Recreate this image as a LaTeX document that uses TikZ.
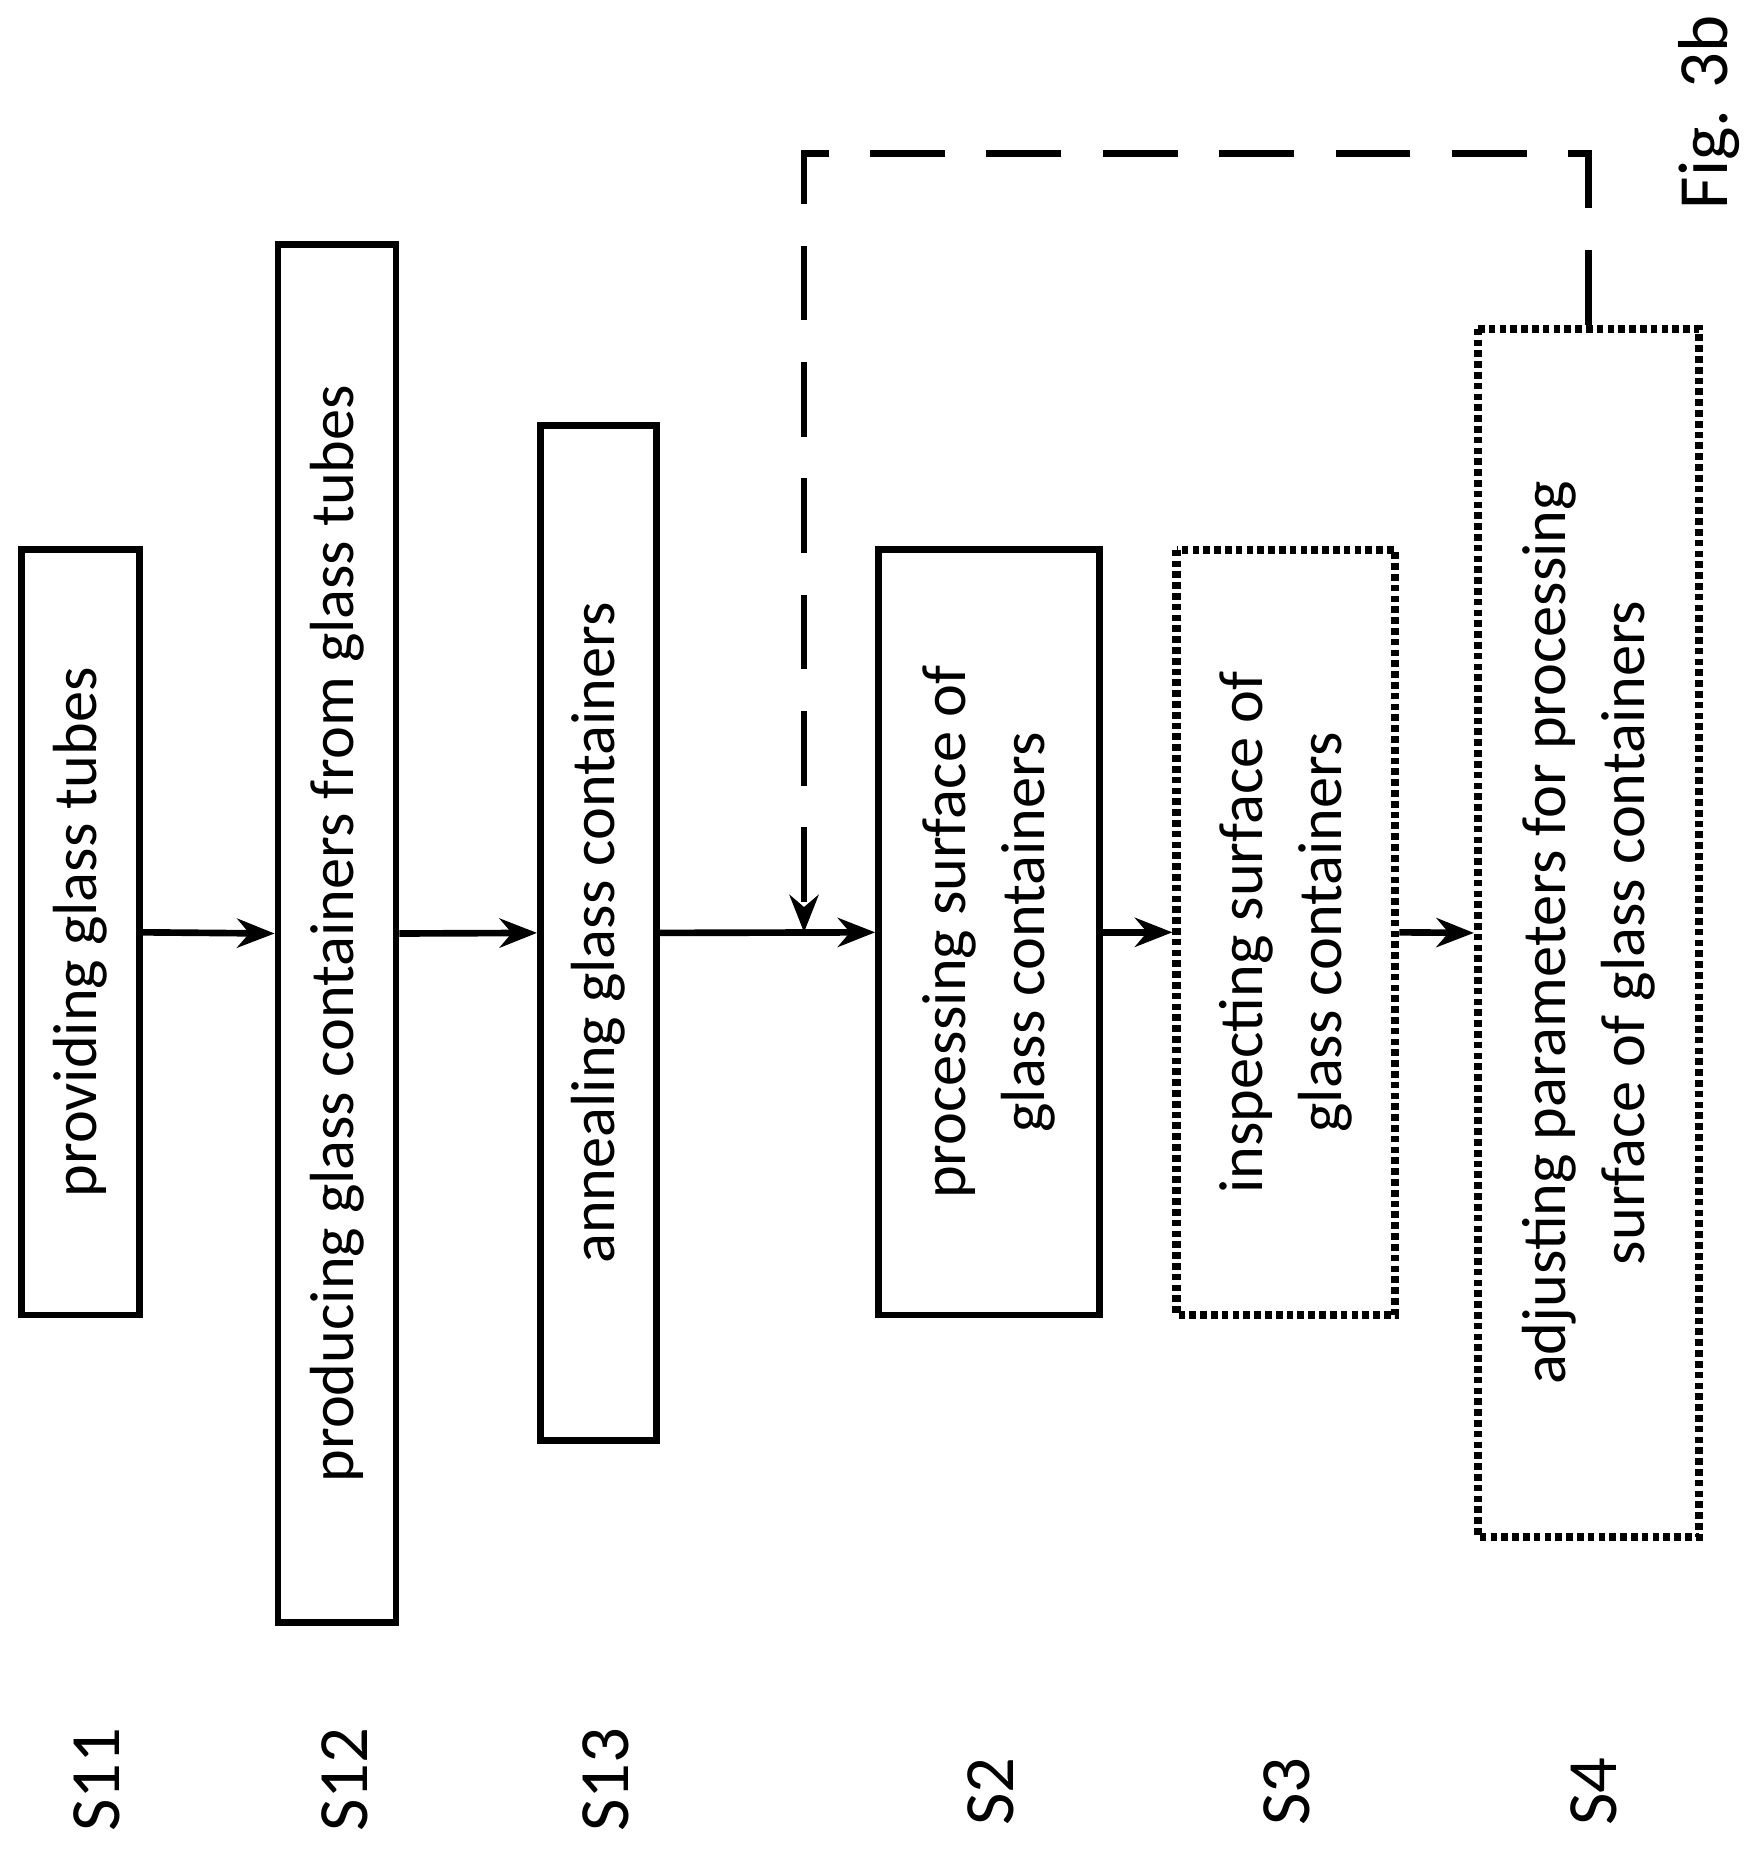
\documentclass[tikz,border=0pt]{standalone}
\usepackage{fontspec}
\setmainfont{Carlito}
\usetikzlibrary{arrows.meta}
\begin{document}
\begin{tikzpicture}[
  box/.style={draw,line width=1.6pt,rotate=90,align=center,inner sep=0pt,font=\fontsize{15}{19}\selectfont},
  dbox/.style={box,densely dotted,line width=2pt},
  arr/.style={line width=1.6pt,-{Stealth[length=9pt,width=7pt]}},
  lab/.style={rotate=90,font=\fontsize{17}{20}\selectfont}]
\useasboundingbox (0,0) rectangle (14.9,-15.68);
\node[box,minimum width=6.47cm,minimum height=1.0cm] (S11) at (0.68,-7.885) {providing glass tubes};
\node[box,minimum width=11.65cm,minimum height=1.0cm] (S12) at (2.85,-7.895) {producing glass containers from glass tubes};
\node[box,minimum width=8.58cm,minimum height=0.98cm] (S13) at (5.06,-7.89) {annealing glass containers};
\node[box,minimum width=6.47cm,minimum height=1.87cm] (S2) at (8.365,-7.885) {processing surface of\\glass containers};
\node[dbox,minimum width=6.47cm,minimum height=1.85cm] (S3) at (10.875,-7.885) {inspecting surface of\\glass containers};
\node[dbox,minimum width=10.22cm,minimum height=1.87cm] (S4) at (13.435,-7.89) {adjusting parameters for processing\\surface of glass containers};
\draw[arr] (S11.south) -- (S12.north);
\draw[arr] (S12.south) -- (S13.north);
\draw[arr] (S13.south) -- (S2.north);
\draw[arr] (S2.south) -- (S3.north);
\draw[arr] (S3.south) -- (S4.north);
\coordinate (J) at (6.8,-7.885);
\coordinate (T) at (6.8,-1.3);
\draw[arr,dash pattern=on 18pt off 10pt] (S4.east) |- (T) -- (J);
\node[lab] (l1) at (0.82,-15.05) {S11};
\node[lab] (l2) at (2.92,-15.05) {S12};
\node[lab] (l3) at (5.12,-15.05) {S13};
\node[lab] (l4) at (8.38,-15.15) {S2};
\node[lab] (l5) at (10.88,-15.15) {S3};
\node[lab] (l6) at (13.48,-15.15) {S4};
\node[lab] (fig) at (14.45,-0.95) {Fig. 3b};
\end{tikzpicture}
\end{document}
